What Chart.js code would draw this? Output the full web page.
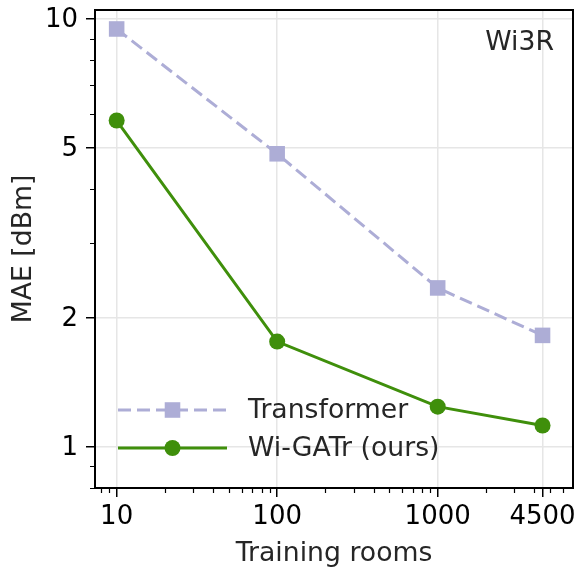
<!DOCTYPE html>
<html>
<head>
<meta charset="utf-8">
<script src="https://cdn.jsdelivr.net/npm/chart.js@4.4.1/dist/chart.umd.min.js"></script>
<style>
  html, body { margin: 0; padding: 0; background: #fff; }
</style>
</head>
<body>
<canvas id="chart" width="579" height="573"></canvas>
<script>
// values
const rooms = [10, 100, 1000, 4500];
const transformerMae = [9.48, 4.84, 2.35, 1.82];
const wiGatrMae = [5.79, 1.76, 1.24, 1.12];

const xTicks = [10, 100, 1000, 4500];
const yTicks = [1, 2, 5, 10];
const xMinor = [8, 9, 20, 30, 40, 50, 60, 70, 80, 90, 200, 300, 400, 500, 600, 700, 800, 900, 2000, 3000, 4000, 5000, 6000];
const yMinor = [0.8, 0.9, 3, 4, 6, 7, 8, 9];

const lavender = '#adadd6';
const green = '#3f8f0b';
const FONT = 'DejaVu Sans';

Chart.defaults.font.family = FONT;

function pairs(xs, ys) {
    return xs.map((x, i) => ({x: x, y: ys[i]}));
}

// frame, minor ticks, in-plot legend and the "Wi3R" tag
const extras = {
    id: 'extras',
    afterDraw(chart) {
        const ctx = chart.ctx;
        const a = chart.chartArea;
        const xs = chart.scales.x;
        const ys = chart.scales.y;
        ctx.save();

        // minor ticks
        ctx.strokeStyle = '#000';
        ctx.lineWidth = 1.2;
        ctx.beginPath();
        xMinor.forEach(v => {
            const px = Math.round(xs.getPixelForValue(v)) + 0.5;
            ctx.moveTo(px, a.bottom);
            ctx.lineTo(px, a.bottom + 5);
        });
        yMinor.forEach(v => {
            const py = Math.round(ys.getPixelForValue(v)) + 0.5;
            ctx.moveTo(a.left - 5, py);
            ctx.lineTo(a.left, py);
        });
        ctx.stroke();

        // frame
        ctx.lineWidth = 2;
        ctx.strokeRect(a.left, a.top, a.right - a.left, a.bottom - a.top);

        // legend
        const rows = [a.bottom - 78, a.bottom - 40];
        const x0 = a.left + 23, x1 = a.left + 132;
        chart.data.datasets.forEach((ds, i) => {
            const y = rows[i];
            ctx.strokeStyle = ds.borderColor;
            ctx.lineWidth = ds.borderWidth;
            ctx.setLineDash(ds.borderDash || []);
            ctx.beginPath();
            ctx.moveTo(x0, y);
            ctx.lineTo(x1, y);
            ctx.stroke();
            ctx.setLineDash([]);
            ctx.fillStyle = ds.pointBackgroundColor;
            Chart.helpers.drawPoint(ctx, {
                pointStyle: ds.pointStyle, radius: ds.pointRadius, borderWidth: 0, rotation: 0
            }, (x0 + x1) / 2, y);
            ctx.fillStyle = '#262626';
            ctx.font = '26.7px "' + FONT + '"';
            ctx.textAlign = 'left';
            ctx.textBaseline = 'middle';
            ctx.fillText(ds.label, x1 + 21, y + 1);
        });

        // panel tag
        ctx.fillStyle = '#262626';
        ctx.font = '26.7px "' + FONT + '"';
        ctx.textAlign = 'right';
        ctx.textBaseline = 'alphabetic';
        ctx.fillText('Wi3R', a.right - 19, a.top + 40);

        ctx.restore();
    }
};

new Chart(document.getElementById('chart'), {
    type: 'line',
    data: {
        datasets: [
            {
                label: 'Transformer',
                data: pairs(rooms, transformerMae),
                borderColor: lavender,
                backgroundColor: lavender,
                pointBackgroundColor: lavender,
                borderWidth: 3,
                borderDash: [13, 6],
                pointStyle: 'rect',
                pointRadius: 11,
                pointBorderWidth: 0,
                tension: 0,
                fill: false
            },
            {
                label: 'Wi-GATr (ours)',
                data: pairs(rooms, wiGatrMae),
                borderColor: green,
                backgroundColor: green,
                pointBackgroundColor: green,
                borderWidth: 3,
                pointStyle: 'circle',
                pointRadius: 8,
                pointBorderWidth: 0,
                tension: 0,
                fill: false
            }
        ]
    },
    options: {
        responsive: false,
        animation: false,
        devicePixelRatio: 1,
        layout: { autoPadding: false, padding: { top: 10, right: 6, left: 0, bottom: 0 } },
        plugins: {
            legend: { display: false },
            tooltip: { enabled: false }
        },
        scales: {
            x: {
                type: 'logarithmic',
                min: 7.33,
                max: 6966,
                afterBuildTicks: s => { s.ticks = xTicks.map(v => ({value: v})); },
                afterFit: s => { s.height = 85; s.paddingLeft = 0; s.paddingRight = 0; },
                ticks: {
                    callback: v => String(v),
                    font: { size: 26 },
                    color: '#000',
                    padding: 5,
                    maxRotation: 0,
                    autoSkip: false
                },
                grid: { color: '#e6e6e6', lineWidth: 1.5, tickColor: '#000', tickLength: 9, tickWidth: 1.5 },
                border: { display: false },
                title: {
                    display: true,
                    text: 'Training rooms',
                    color: '#262626',
                    font: { size: 26.7 },
                    padding: { top: 0, bottom: 3 }
                }
            },
            y: {
                type: 'logarithmic',
                min: 0.8,
                max: 10.5,
                afterBuildTicks: s => { s.ticks = yTicks.map(v => ({value: v})); },
                afterFit: s => { s.width = 95; s.paddingTop = 0; s.paddingBottom = 0; },
                ticks: {
                    callback: v => String(v),
                    font: { size: 26 },
                    color: '#000',
                    padding: 8,
                    labelOffset: 1.5,
                    autoSkip: false
                },
                grid: { color: '#e6e6e6', lineWidth: 1.5, tickColor: '#000', tickLength: 9, tickWidth: 1.5 },
                border: { display: false },
                title: {
                    display: true,
                    text: 'MAE [dBm]',
                    color: '#262626',
                    font: { size: 26.7 },
                    padding: { top: 8, bottom: 0 }
                }
            }
        }
    },
    plugins: [extras]
});
</script>
</body>
</html>
